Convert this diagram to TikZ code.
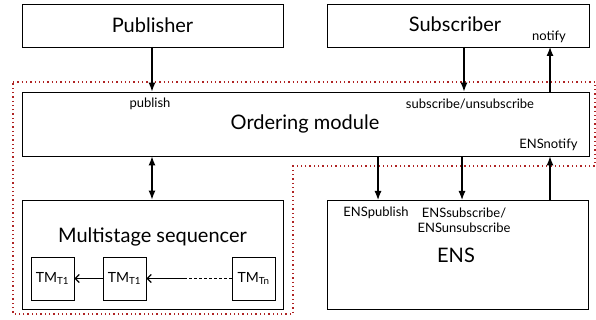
\documentclass[tikz,border=0pt]{standalone}
\usepackage{fontspec}
\setmainfont{Lato}
\usetikzlibrary{arrows.meta}
\definecolor{zonered}{RGB}{175,35,35}

\begin{document}
\begin{tikzpicture}[x=1pt, y=-1pt, box/.style={draw, rectangle, line width=0.9pt, inner sep=0pt}, big/.style={font=\fontsize{20}{23}\selectfont}, small/.style={font=\fontsize{13}{15}\selectfont}, n/.style={-{Latex[length=9pt, width=7pt]}, line width=1.2pt}, b/.style={{Latex[length=9pt, width=7pt]}-{Latex[length=9pt, width=7pt]}, line width=1.2pt}, t/.style={-{Straight Barb[length=4pt, width=8pt]}, line width=1.2pt}, zone/.style={draw=zonered, line width=1.3pt, dash pattern=on 1.3pt off 3pt}]
                \useasboundingbox (0,0) rectangle (596,320);
                % zone
                \draw[zone] (13,82) -- (595,82) -- (595,166) -- (293,166) -- (293,314) -- (13,314) -- cycle;
                % nodes
                \node[box, minimum width=261pt, minimum height=43pt] (pub) at (152.5,25.5) {};
                \node[big] (publbl) at (152.5,25) {Publisher};
                \node[box, minimum width=262pt, minimum height=43pt] (sub) at (458,25.5) {};
                \node[big] (sublbl) at (455,24) {Subscriber};
                \node[small] (notify) at (549,37) {notify};
                \node[box, minimum width=567pt, minimum height=64pt] (ord) at (305.5,124) {};
                \node[big] (ordlbl) at (305,124) {Ordering module};
                \node[small] (publish) at (150,104) {publish};
                \node[small] (subs) at (470,104) {subscribe/unsubscribe};
                \node[small, anchor=east] (ensnotify) at (581,145) {ENSnotify};
                \node[box, minimum width=261pt, minimum height=109pt] (seq) at (152.5,254.5) {};
                \node[big] (seqlbl) at (152.5,237) {Multistage sequencer};
                \node[box, minimum size=43pt] (tm1) at (52.5,278.5) {};
                \node[box, minimum size=43pt] (tm2) at (124.5,278.5) {};
                \node[box, minimum size=43pt] (tm3) at (253.5,278.5) {};
                \node[font=\fontsize{14}{16}\selectfont] (tm1lbl) at (tm1) {TM\textsubscript{T1}};
                \node[font=\fontsize{14}{16}\selectfont] (tm2lbl) at (tm2) {TM\textsubscript{T1}};
                \node[font=\fontsize{14}{16}\selectfont] (tm3lbl) at (tm3) {TM\textsubscript{Tn}};
                \node[box, minimum width=261pt, minimum height=109pt] (ens) at (457.5,254.5) {};
                \node[big] (enslbl) at (456,255) {ENS};
                \node[small] (enspub) at (376,213) {ENSpublish};
                \node[small, align=center] (enssub) at (464,220) {ENSsubscribe/\\ENSunsubscribe};
                % coordinates
                \coordinate (p) at (152,47);
                \coordinate (s) at (464,47);
                \coordinate (r) at (550,47);
                \coordinate (e1) at (378,200);
                \coordinate (e2) at (462,200);
                \coordinate (e3) at (550,200);
                \coordinate (mid) at (185,278.5);
                % edges
                \draw [n] (p) -- (p |- ord.north);
                \draw [n] (s) -- (s |- ord.north);
                \draw [n] (r |- ord.north) -- (r);
                \draw [b] (p |- ord.south) -- (p |- seq.north);
                \draw [n] (e1 |- ord.south) -- (e1);
                \draw [n] (e2 |- ord.south) -- (e2);
                \draw [n] (e3) -- (e3 |- ord.south);
                \draw [t] (tm2.west) -- (tm1.east);
                \draw [t] (mid) -- (tm2.east);
                \draw [line width=1.2pt, dash pattern=on 2.5pt off 2.5pt] (tm3.west) -- (mid);
            \end{tikzpicture}
\end{document}
